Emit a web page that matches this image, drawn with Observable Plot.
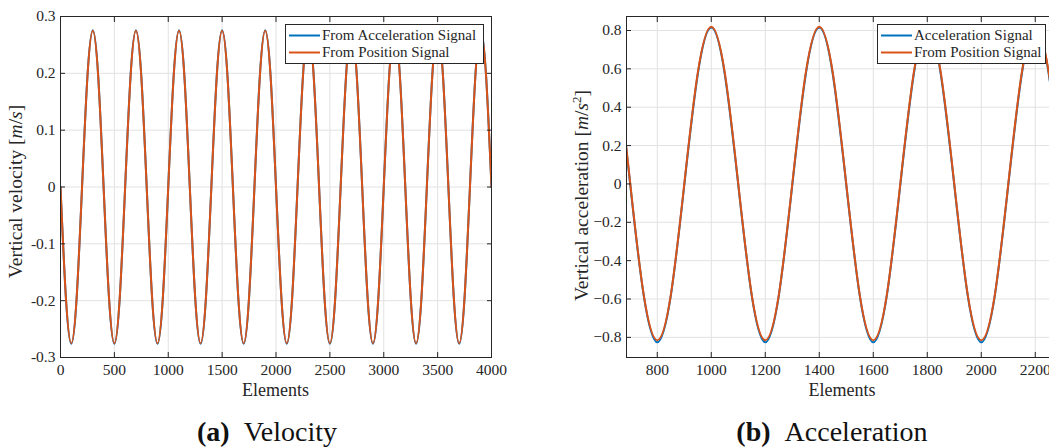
<!DOCTYPE html>
<html><head><meta charset="utf-8">
<script src="https://cdn.jsdelivr.net/npm/d3@7"></script>
<script src="https://cdn.jsdelivr.net/npm/@observablehq/plot@0.6"></script>
<style>
body{margin:0;background:#fff;}
#root{position:relative;width:1049px;height:448px;overflow:hidden;font-family:"Liberation Serif",serif;color:#262626;}
#root svg{position:absolute;top:0;}
</style></head><body><div id="root"></div>
<script>
// ---------- data ----------
const seriesNames = ["From Acceleration Signal", "From Position Signal"];
const seriesNamesB = ["Acceleration Signal", "From Position Signal"];
const seriesColors = ["#0072BD", "#D95319"];

// (a) velocity, sampled every 50 elements (0 .. 4000)
const velElements = d3.range(0, 4001, 50);
const velFromAcc = [
  0,-0.195,-0.276,-0.195,0,0.195,0.276,0.195,
  0,-0.195,-0.276,-0.195,0,0.195,0.276,0.195,
  0,-0.195,-0.276,-0.195,0,0.195,0.276,0.195,
  0,-0.195,-0.276,-0.195,0,0.195,0.276,0.195,
  0,-0.195,-0.276,-0.195,0,0.195,0.276,0.195,
  0,-0.195,-0.276,-0.195,0,0.195,0.276,0.195,
  0,-0.195,-0.276,-0.195,0,0.195,0.276,0.195,
  0,-0.195,-0.276,-0.195,0,0.195,0.276,0.195,
  0,-0.195,-0.276,-0.195,0,0.195,0.276,0.195,
  0,-0.195,-0.276,-0.195,0,0.195,0.276,0.195,
  0
];
const velFromPos = [
  0,-0.194,-0.275,-0.194,0,0.194,0.275,0.194,
  0,-0.194,-0.275,-0.194,0,0.194,0.275,0.194,
  0,-0.194,-0.275,-0.194,0,0.194,0.275,0.194,
  0,-0.194,-0.275,-0.194,0,0.194,0.275,0.194,
  0,-0.194,-0.275,-0.194,0,0.194,0.275,0.194,
  0,-0.194,-0.275,-0.194,0,0.194,0.275,0.194,
  0,-0.194,-0.275,-0.194,0,0.194,0.275,0.194,
  0,-0.194,-0.275,-0.194,0,0.194,0.275,0.194,
  0,-0.194,-0.275,-0.194,0,0.194,0.275,0.194,
  0,-0.194,-0.275,-0.194,0,0.194,0.275,0.194,
  0
];

// (b) acceleration, sampled every 50 elements (600 .. 2300)
const accElements = d3.range(600, 2301, 50);
const accSignal = [
  0.815,0.572,-0.006,-0.584,-0.826,-0.584,-0.006,0.572,
  0.815,0.572,-0.006,-0.584,-0.826,-0.584,-0.006,0.572,
  0.815,0.572,-0.006,-0.584,-0.826,-0.584,-0.006,0.572,
  0.815,0.572,-0.006,-0.584,-0.826,-0.584,-0.006,0.572,
  0.815,0.572,-0.006
];
const accFromPos = [
  0.82,0.58,0,-0.58,-0.815,-0.58,0,0.58,
  0.82,0.58,0,-0.58,-0.815,-0.58,0,0.58,
  0.82,0.58,0,-0.58,-0.815,-0.58,0,0.58,
  0.82,0.58,0,-0.58,-0.815,-0.58,0,0.58,
  0.82,0.58,0
];

// ticks
const xTicksA = [0,500,1000,1500,2000,2500,3000,3500,4000];
const yTicksA = [-0.3,-0.2,-0.1,0,0.1,0.2,0.3];
const yLabelsA = ["-0.3","-0.2","-0.1","0","0.1","0.2","0.3"];
const xTicksB = [800,1000,1200,1400,1600,1800,2000,2200];
const yTicksB = [-0.8,-0.6,-0.4,-0.2,0,0.2,0.4,0.6,0.8];
const yLabelsB = ["\u22120.8","\u22120.6","\u22120.4","\u22120.2","0","0.2","0.4","0.6","0.8"];

// ---------- drawing ----------
const ink = "#262626";
const gridColor = "#e2e2e2";

function makePanel({xDomain, yDomain, xTicks, yTicks, yLabels, series, width, marginLeft, marginRight}) {
  const data = [];
  series.forEach((s, k) => s.x.forEach((x, i) => data.push({x, y: s.y[i], k})));
  return Plot.plot({
    width, height: 400,
    marginLeft, marginRight, marginTop: 16, marginBottom: 43,
    style: {fontFamily: "'Liberation Serif', serif", fontSize: "15.5px", color: ink, background: "transparent", overflow: "visible"},
    x: {domain: xDomain, label: null},
    y: {domain: yDomain, label: null},
    marks: [
      Plot.gridX(xTicks, {stroke: gridColor, strokeOpacity: 1}),
      Plot.gridY(yTicks, {stroke: gridColor, strokeOpacity: 1}),
      ...series.map((s, k) => Plot.line(data.filter(d => d.k === k), {x: "x", y: "y", stroke: seriesColors[k], strokeWidth: 2, curve: "natural", clip: true})),
      Plot.axisX(xTicks, {anchor: "bottom", tickSize: 0, tickPadding: 6, label: null, tickFormat: d => String(d)}),
      Plot.axisX(xTicks, {anchor: "bottom", tickSize: -5, fill: "none", label: null}),
      Plot.axisX(xTicks, {anchor: "top", tickSize: -5, fill: "none", label: null}),
      Plot.axisY(yTicks, {anchor: "left", tickSize: 0, tickPadding: 5, label: null, tickFormat: d => yLabels[yTicks.indexOf(d)]}),
      Plot.axisY(yTicks, {anchor: "left", tickSize: -5, fill: "none", label: null}),
      Plot.axisY(yTicks, {anchor: "right", tickSize: -5, fill: "none", label: null}),
      Plot.frame({stroke: ink, strokeWidth: 1})
    ]
  });
}

const root = document.getElementById("root");

const panelA = makePanel({
  xDomain: [0, 4000], yDomain: [-0.3, 0.3], xTicks: xTicksA, yTicks: yTicksA, yLabels: yLabelsA,
  series: [{x: velElements, y: velFromAcc}, {x: velElements, y: velFromPos}],
  width: 520, marginLeft: 60, marginRight: 29
});
panelA.style.left = "0px";
root.appendChild(panelA);

const panelB = makePanel({
  xDomain: [686, 2286], yDomain: [-0.905, 0.873], xTicks: xTicksB, yTicks: yTicksB, yLabels: yLabelsB,
  series: [{x: accElements, y: accSignal}, {x: accElements, y: accFromPos}],
  width: 518, marginLeft: 66, marginRight: 20
});
panelB.style.left = "560px";
root.appendChild(panelB);

function addLabels(panel, ylabelParts, ylabelX, shiftY) {
  const svg = d3.select(panel);
  const xs = panel.scale("x").range, ys = panel.scale("y").range;
  const cx = (xs[0] + xs[1]) / 2, cy = (ys[0] + ys[1]) / 2 + shiftY;
  const g = svg.append("g").attr("fill", ink).attr("font-family", "'Liberation Serif', serif");
  g.append("text").attr("x", cx).attr("y", 396).attr("text-anchor", "middle").attr("font-size", 18).text("Elements");
  const t = g.append("text").attr("transform", `translate(${ylabelX},${cy}) rotate(-90)`).attr("text-anchor", "middle").attr("font-size", 19.5);
  ylabelParts.forEach(p => {
    const ts = t.append("tspan").text(p.t);
    if (p.i) ts.attr("font-style", "italic");
    if (p.dy) ts.attr("dy", p.dy);
    if (p.fs) ts.attr("font-size", p.fs);
  });
}

addLabels(panelA, [{t: "Vertical velocity ["}, {t: "m", i: true}, {t: "/"}, {t: "s", i: true}, {t: "]"}], 22, 5);
addLabels(panelB, [{t: "Vertical acceleration ["}, {t: "m", i: true}, {t: "/"}, {t: "s", i: true}, {t: "2", dy: -7, fs: 13}, {t: "]", dy: 7}], 28, 9);

// overlay: legends and captions
const overlay = d3.select(root).append("svg").attr("width", 1049).attr("height", 448).style("left", "0px")
  .attr("font-family", "'Liberation Serif', serif");

function legend(x0, y0, w, names) {
  const g = overlay.append("g");
  g.append("rect").attr("x", x0 + 0.5).attr("y", y0 + 0.5).attr("width", w).attr("height", 39).attr("fill", "#fff").attr("stroke", ink);
  names.forEach((n, i) => {
    const y = y0 + 11.5 + i * 17;
    g.append("line").attr("x1", x0 + 4).attr("x2", x0 + 35).attr("y1", y).attr("y2", y).attr("stroke", seriesColors[i]).attr("stroke-width", 2);
    g.append("text").attr("x", x0 + 37).attr("y", y).attr("dy", "0.33em").attr("font-size", 15).attr("fill", ink).text(n);
  });
}
legend(285, 24, 198, seriesNames);
legend(877, 24, 168, seriesNamesB);

function caption(cx, letter, word) {
  const t = overlay.append("text").attr("x", cx).attr("y", 441).attr("text-anchor", "middle").attr("font-size", 28).attr("fill", "#111");
  t.append("tspan").attr("font-weight", "bold").text(`(${letter})`);
  t.append("tspan").text("\u2002" + word);
}
caption(267, "a", "Velocity");
caption(832, "b", "Acceleration");
</script></body></html>
